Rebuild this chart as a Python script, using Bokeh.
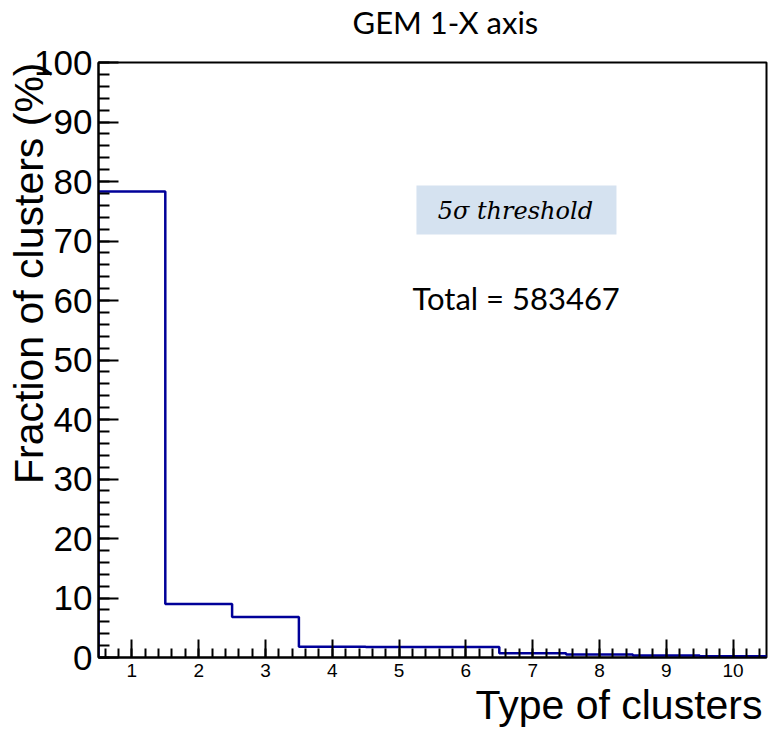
from bokeh.plotting import figure
from bokeh.models import Label, BoxAnnotation, SingleIntervalTicker, Range1d, Title
from bokeh.embed import file_html
from bokeh.resources import INLINE

# Cluster-size distribution (percent of all clusters), one bin per cluster type
cluster_types = [1, 2, 3, 4, 5, 6, 7, 8, 9, 10]
fraction_pct = [78.3, 9.0, 6.8, 1.8, 1.75, 1.75, 0.7, 0.5, 0.35, 0.2]
total_clusters = 583467

# Histogram outline built from bin edges (width 1, centred on each type)
edges = [t - 0.5 for t in cluster_types] + [cluster_types[-1] + 0.5]
xs, ys = [edges[0]], [0.0]
for i, v in enumerate(fraction_pct):
    xs += [edges[i], edges[i + 1]]
    ys += [v, v]
xs.append(edges[-1])
ys.append(0.0)

p = figure(width=771, height=733, output_backend="svg", toolbar_location=None,
           x_range=Range1d(0.5, 10.5), y_range=Range1d(0, 100),
           min_border_left=98, min_border_right=5, min_border_top=62,
           min_border_bottom=76)
p.background_fill_color = "white"
p.border_fill_color = "white"
p.outline_line_color = "black"
p.outline_line_width = 2
p.xgrid.visible = False
p.ygrid.visible = False

p.line(xs, ys, line_color="#000099", line_width=2.5)

FONT = "Liberation Sans"

xa = p.xaxis[0]
xa.ticker = SingleIntervalTicker(interval=1, num_minor_ticks=5)
xa.axis_line_width = 2
xa.major_tick_in = 18
xa.major_tick_out = 0
xa.minor_tick_in = 9
xa.minor_tick_out = 0
xa.major_tick_line_width = 2
xa.minor_tick_line_width = 2
xa.major_label_text_font = FONT
xa.major_label_text_font_size = "19px"
xa.major_label_text_color = "black"
xa.major_label_standoff = 6

ya = p.yaxis[0]
ya.ticker = SingleIntervalTicker(interval=10, num_minor_ticks=5)
ya.axis_line_width = 2
ya.major_tick_in = 20
ya.major_tick_out = 0
ya.minor_tick_in = 11
ya.minor_tick_out = 0
ya.major_tick_line_width = 2
ya.minor_tick_line_width = 2
ya.major_label_text_font = FONT
ya.major_label_text_font_size = "35px"
ya.major_label_text_color = "black"
ya.major_label_standoff = 6

# Axis titles, aligned to the far end of each axis
p.add_layout(Title(text="Type of clusters", align="right", offset=4, standoff=0,
                   text_font=FONT, text_font_size="41px", text_font_style="normal",
                   text_color="black"), "below")
p.add_layout(Title(text="Fraction of clusters (%)", align="right", offset=0, standoff=-40,
                   text_font=FONT, text_font_size="41px", text_font_style="normal",
                   text_color="black"), "left")

# Canvas title: a thin gap panel next to the frame, then the title text above it
p.add_layout(Title(text=" ", standoff=19, text_font_size="1px"), "above")
p.add_layout(Title(text="GEM 1-X axis", align="left", offset=254, standoff=0,
                   text_font="Lato", text_font_size="31px", text_font_style="normal",
                   text_color="black"), "above")

# Threshold tag and total count
p.add_layout(BoxAnnotation(left=5.26, right=8.254, bottom=71.09, top=79.33,
                           fill_color="#D5E2F0", fill_alpha=1.0, line_alpha=0))
p.add_layout(Label(x=6.74, y=74.96, text="5σ threshold", text_align="center",
                   text_baseline="middle", text_font="DejaVu Serif",
                   text_font_style="italic", text_font_size="24px",
                   text_color="black"))
p.add_layout(Label(x=5.20, y=60.4, text=f"Total = {total_clusters}", text_align="left",
                   text_baseline="alphabetic", text_font="Lato",
                   text_font_size="31px", text_color="black"))

open("out.html", "w").write(file_html(p, INLINE))
